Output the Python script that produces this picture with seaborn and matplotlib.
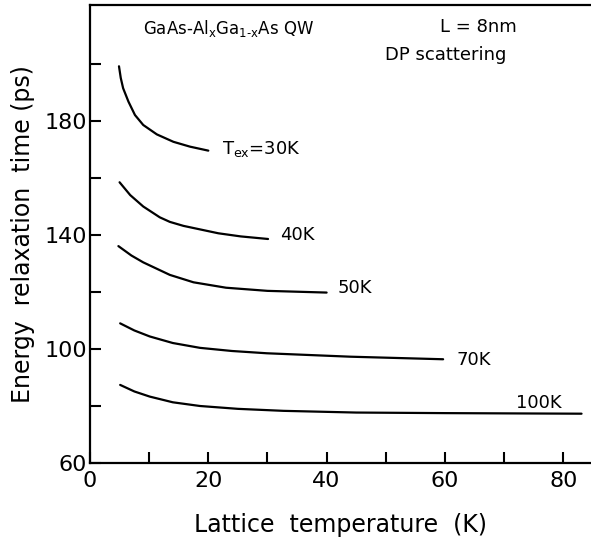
import numpy as np
import pandas as pd
import matplotlib
matplotlib.use("Agg")
import matplotlib.pyplot as plt
from matplotlib.ticker import FixedLocator, NullFormatter
import seaborn as sns

# ---- data ----
t30 = [4.9, 5.2, 5.6, 6.5, 7.6, 9.0, 11.3, 14.1, 16.9, 20.0]
v30 = [199.2, 195.1, 191.5, 186.8, 182.1, 178.6, 175.3, 172.7, 171.0, 169.6]
t40 = [5.0, 6.8, 9.0, 11.8, 13.5, 15.8, 21.7, 25.5, 30.1]
v40 = [158.5, 154.0, 150.0, 146.2, 144.6, 143.2, 140.6, 139.5, 138.6]
t50 = [4.8, 7.0, 9.0, 13.5, 17.5, 23.0, 30.0, 40.0]
v50 = [136.1, 132.8, 130.4, 126.0, 123.4, 121.5, 120.4, 119.8]
t70 = [5.1, 7.5, 10.1, 14.0, 18.6, 24.0, 29.9, 44.0, 59.7]
v70 = [109.0, 106.5, 104.4, 102.1, 100.4, 99.3, 98.5, 97.3, 96.4]
t100 = [5.1, 7.5, 10.1, 14.0, 18.6, 25.0, 32.7, 45.0, 60.0, 83.1]
v100 = [87.4, 85.1, 83.3, 81.3, 80.0, 79.0, 78.3, 77.7, 77.5, 77.3]

tex_labels = ["T$_\\mathregular{ex}$=30K", "40K", "50K", "70K", "100K"]
label_x = [22.3, 32.1, 41.8, 62.0, 72.0]
label_y = [170.0, 140.0, 121.4, 96.1, 81.0]

xticks_major = [0, 20, 40, 60, 80]
xticks_minor = [10, 30, 50, 70]
yticks_major = [60, 100, 140, 180]
yticks_minor = [80, 120, 160, 200]

series = {"30K": (t30, v30), "40K": (t40, v40), "50K": (t50, v50),
          "70K": (t70, v70), "100K": (t100, v100)}
frames = []
for name, (t, v) in series.items():
    frames.append(pd.DataFrame({"T": t, "tau": v, "Tex": name}))
df = pd.concat(frames, ignore_index=True)

sns.set_theme(style="ticks")
plt.rcParams["font.family"] = ["DejaVu Sans"]

fig = plt.figure(figsize=(5.91, 5.48), dpi=100)
ax = fig.add_axes([90 / 591, 85 / 548, 1 - 90 / 591, (463 - 5) / 548])

sns.lineplot(data=df, x="T", y="tau", hue="Tex", palette=["black"] * 5,
             estimator=None, sort=False, legend=False, linewidth=1.6, ax=ax)

ax.set_xlim(0, 84.7)
ax.set_ylim(60, 220.7)

ax.xaxis.set_major_locator(FixedLocator(xticks_major))
ax.xaxis.set_minor_locator(FixedLocator(xticks_minor))
ax.yaxis.set_major_locator(FixedLocator(yticks_major))
ax.yaxis.set_minor_locator(FixedLocator(yticks_minor))
ax.xaxis.set_minor_formatter(NullFormatter())
ax.yaxis.set_minor_formatter(NullFormatter())
ax.tick_params(which="both", direction="in", length=8, width=1.5, color="black",
               labelsize=16, labelcolor="black")
ax.tick_params(axis="x", pad=6)
ax.tick_params(axis="y", pad=2)

for s in ["left", "bottom", "top"]:
    ax.spines[s].set_linewidth(1.6)
    ax.spines[s].set_color("black")
ax.spines["right"].set_visible(False)

ax.set_xlabel("Lattice  temperature  (K)", fontsize=17, color="black")
ax.set_ylabel("Energy  relaxation  time (ps)", fontsize=17, color="black")
ax.xaxis.set_label_coords(0.5, -0.11)
ax.yaxis.set_label_coords(-0.11, 0.5)

for lab, lx, ly in zip(tex_labels, label_x, label_y):
    ax.text(lx, ly, lab, fontsize=13, ha="left", va="center", color="black")

ax.text(9.0, 212.3, "GaAs-Al$_\\mathregular{x}$Ga$_\\mathregular{1\\text{-}x}$As QW",
        fontsize=12, ha="left", va="center", color="black")
ax.text(59.2, 213.0, "L = 8nm", fontsize=13, ha="left", va="center", color="black")
ax.text(49.9, 203.0, "DP scattering", fontsize=13, ha="left", va="center", color="black")

fig.savefig("out.png", dpi=100, facecolor="white")
